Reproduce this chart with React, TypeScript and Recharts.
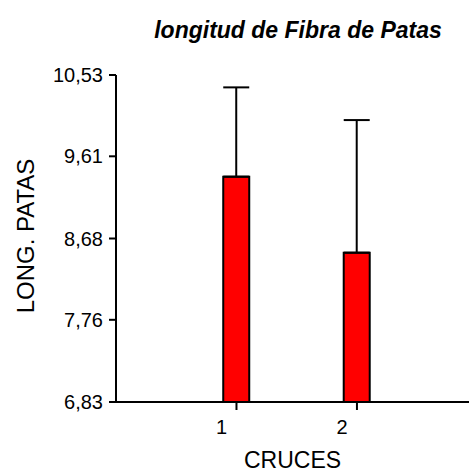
import { Bar, ComposedChart, ErrorBar, XAxis, YAxis } from "recharts"

// Values
const cruces = [1, 2]
const longPatas = [9.38, 8.52]
const errorSup = [1.01, 1.5]
const yTicks = [6.83, 7.76, 8.68, 9.61, 10.53]

const data = cruces.map((c, i) => ({
  cruce: c,
  valor: longPatas[i],
  err: [0, errorSup[i]],
}))

const font = "'Liberation Sans', Arial, sans-serif"

export default function App() {
  return (
    <div style={{ position: "absolute", left: 0, top: 0, width: 469, height: 475, background: "#fff" }}>
      <ComposedChart width={469} height={475} data={data} margin={{ top: 75, right: 0, bottom: 43, left: 0 }}>
        <XAxis
          dataKey="cruce"
          type="number"
          domain={[0, 2.93]}
          ticks={cruces}
          allowDataOverflow
          height={30}
          stroke="#000"
          strokeWidth={2}
          tickSize={8}
          tickMargin={10}
          tick={{ fill: "#000", fontSize: 20, fontFamily: font, dx: -15 }}
          label={{ value: "CRUCES", position: "bottom", offset: 20, fill: "#000", fontSize: 23, fontFamily: font }}
        />
        <YAxis
          type="number"
          domain={[6.83, 10.53]}
          ticks={yTicks}
          allowDataOverflow
          width={116}
          stroke="#000"
          strokeWidth={2}
          tickSize={7}
          tickMargin={6}
          tick={{ fill: "#000", fontSize: 20, fontFamily: font }}
          tickFormatter={(v) => v.toFixed(2).replace(".", ",")}
        />
        <Bar dataKey="valor" fill="#ff0000" stroke="#000" strokeWidth={2} barSize={26} isAnimationActive={false}>
          <ErrorBar dataKey="err" direction="y" width={13} stroke="#000" strokeWidth={2} />
        </Bar>
      </ComposedChart>
      <svg width={469} height={475} style={{ position: "absolute", left: 0, top: 0, pointerEvents: "none" }}>
        <text x={298} y={38} textAnchor="middle" fontFamily={font} fontSize={23} fontWeight="bold" fontStyle="italic" fill="#000">
          longitud de Fibra de Patas
        </text>
        <text
          x={34}
          y={236}
          transform="rotate(-90 34 236)"
          textAnchor="middle"
          fontFamily={font}
          fontSize={24}
          fill="#000"
        >
          LONG. PATAS
        </text>
      </svg>
    </div>
  )
}
